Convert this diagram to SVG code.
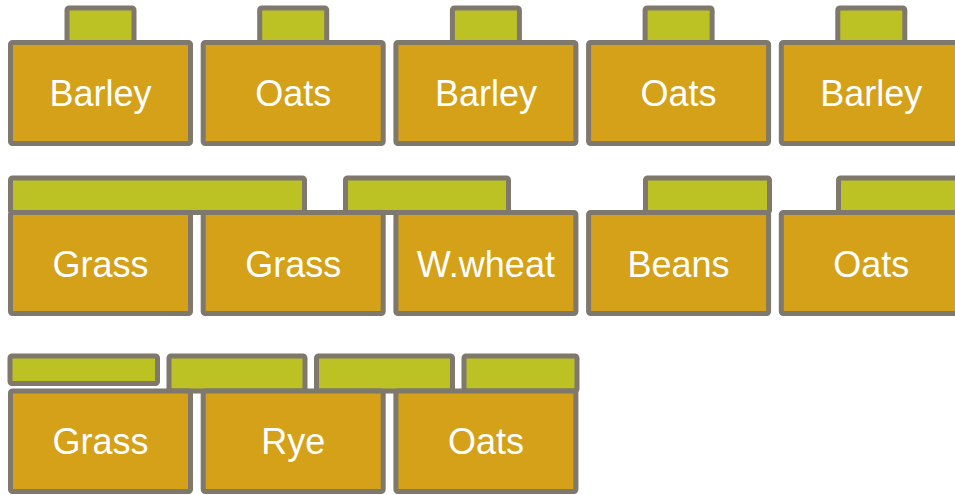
<svg xmlns="http://www.w3.org/2000/svg" width="955" height="495" viewBox="0 0 955 495">
<style>
.box{fill:#D4A118;stroke:#7F786D;stroke-width:5}
.tab{fill:#BCC124;stroke:#7F786D;stroke-width:5}
.lbl{font-family:"Liberation Sans",Arial,sans-serif;font-size:36px;fill:#FFFFFF;text-anchor:middle}
</style>
<rect width="955" height="495" fill="#FFFFFF"/>
<g id="connectors"/>
<g id="row1">
<g id="r1n1"><rect class="tab" x="67" y="8" width="67" height="34.5" rx="2"/><rect class="box" x="10.5" y="42.5" width="180" height="101" rx="2"/><text class="lbl" x="100.5" y="106">Barley</text></g>
<g id="r1n2"><rect class="tab" x="259.7" y="8" width="67" height="34.5" rx="2"/><rect class="box" x="203.2" y="42.5" width="180" height="101" rx="2"/><text class="lbl" x="293.2" y="106">Oats</text></g>
<g id="r1n3"><rect class="tab" x="452.4" y="8" width="67" height="34.5" rx="2"/><rect class="box" x="395.9" y="42.5" width="180" height="101" rx="2"/><text class="lbl" x="485.9" y="106">Barley</text></g>
<g id="r1n4"><rect class="tab" x="645.1" y="8" width="67" height="34.5" rx="2"/><rect class="box" x="588.6" y="42.5" width="180" height="101" rx="2"/><text class="lbl" x="678.6" y="106">Oats</text></g>
<g id="r1n5"><rect class="tab" x="837.8" y="8" width="67" height="34.5" rx="2"/><rect class="box" x="781.3" y="42.5" width="180" height="101" rx="2"/><text class="lbl" x="871.3" y="106">Barley</text></g>
</g>
<g id="row2">
<g id="r2tabs">
<rect class="tab" x="10.5" y="178" width="294" height="34.5" rx="2"/>
<rect class="tab" x="345.5" y="178" width="163" height="34.5" rx="2"/>
<rect class="tab" x="645.5" y="178" width="124" height="34.5" rx="2"/>
<rect class="tab" x="838.5" y="178" width="140" height="34.5" rx="2"/>
</g>
<g id="r2n1"><rect class="box" x="10.5" y="212.5" width="180" height="101" rx="2"/><text class="lbl" x="100.5" y="276.5">Grass</text></g>
<g id="r2n2"><rect class="box" x="203.2" y="212.5" width="180" height="101" rx="2"/><text class="lbl" x="293.2" y="276.5">Grass</text></g>
<g id="r2n3"><rect class="box" x="395.9" y="212.5" width="180" height="101" rx="2"/><text class="lbl" x="485.9" y="276.5">W.wheat</text></g>
<g id="r2n4"><rect class="box" x="588.6" y="212.5" width="180" height="101" rx="2"/><text class="lbl" x="678.6" y="276.5">Beans</text></g>
<g id="r2n5"><rect class="box" x="781.3" y="212.5" width="180" height="101" rx="2"/><text class="lbl" x="871.3" y="276.5">Oats</text></g>
</g>
<g id="row3">
<g id="r3tabs">
<rect class="tab" x="10" y="356" width="147.5" height="27.5" rx="2"/>
<rect class="tab" x="169" y="356" width="136" height="35" rx="2"/>
<rect class="tab" x="316.5" y="356" width="136" height="35" rx="2"/>
<rect class="tab" x="464" y="356" width="113" height="35" rx="2"/>
</g>
<g id="r3n1"><rect class="box" x="10.5" y="391" width="180" height="100.5" rx="2"/><text class="lbl" x="100.5" y="453.5">Grass</text></g>
<g id="r3n2"><rect class="box" x="203.2" y="391" width="180" height="100.5" rx="2"/><text class="lbl" x="293.2" y="453.5">Rye</text></g>
<g id="r3n3"><rect class="box" x="395.9" y="391" width="180" height="100.5" rx="2"/><text class="lbl" x="485.9" y="453.5">Oats</text></g>
</g>
</svg>
